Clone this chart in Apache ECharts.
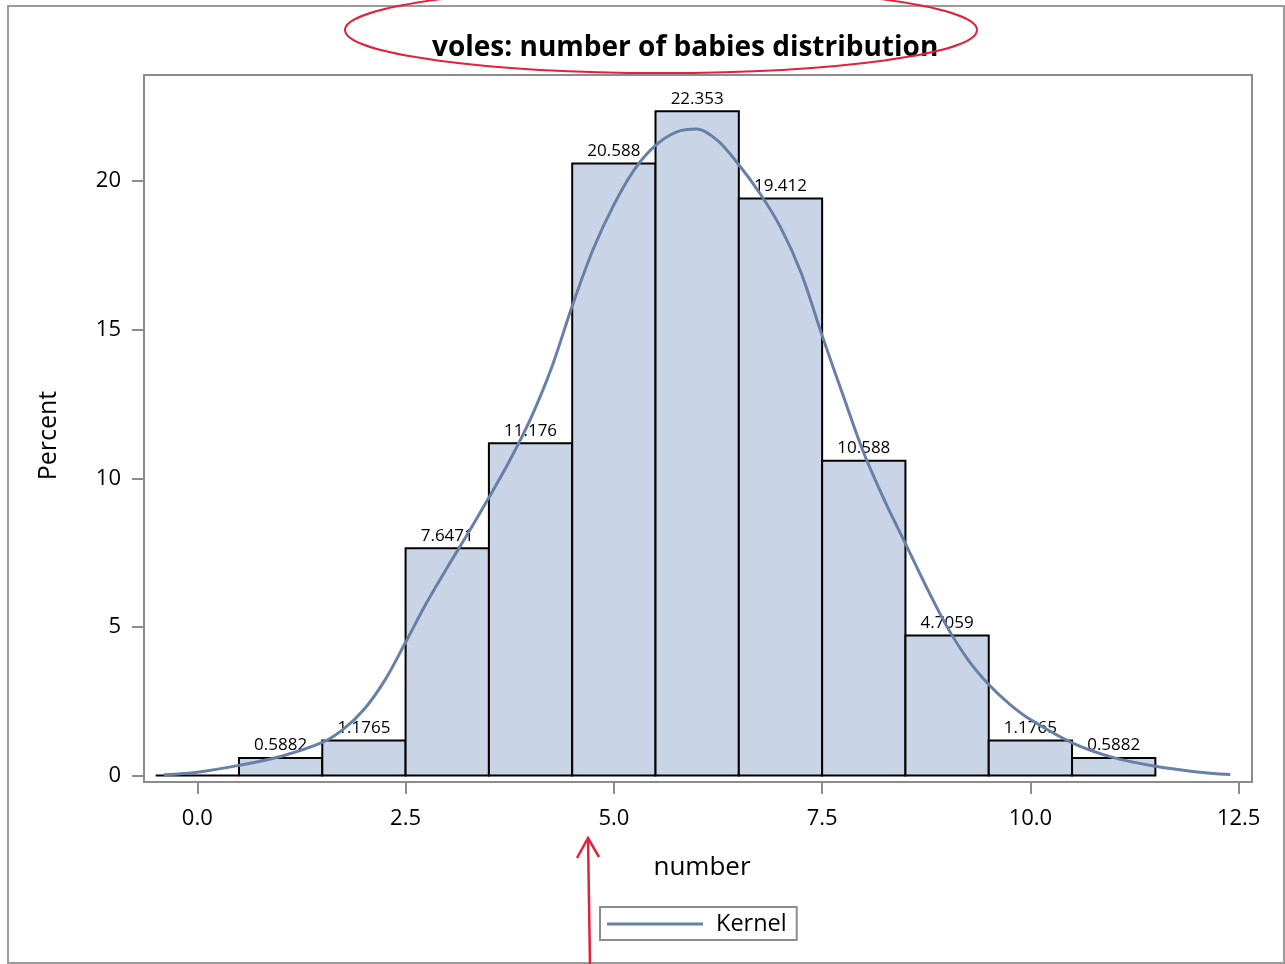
<!DOCTYPE html>
<html>
<head>
<meta charset="utf-8">
<script src="https://cdn.jsdelivr.net/npm/echarts@6/dist/echarts.min.js"></script>
<style>
html,body{margin:0;padding:0;background:#fff;}
#main{width:1285px;height:964px;}
</style>
</head>
<body>
<div id="main"></div>
<script>
// Histogram bins (left edge, right edge) and percent values
const binStarts = [-0.5, 0.5, 1.5, 2.5, 3.5, 4.5, 5.5, 6.5, 7.5, 8.5, 9.5, 10.5];
const binEnds   = [0.5, 1.5, 2.5, 3.5, 4.5, 5.5, 6.5, 7.5, 8.5, 9.5, 10.5, 11.5];
const percents  = [0, 0.5882, 1.1765, 7.6471, 11.176, 20.588, 22.353, 19.412, 10.588, 4.7059, 1.1765, 0.5882];
const barLabels = ['', '0.5882', '1.1765', '7.6471', '11.176', '20.588', '22.353', '19.412', '10.588', '4.7059', '1.1765', '0.5882'];

// Kernel density curve
const kernelX = [-0.4, 0, 0.5, 1.0, 1.5, 1.75, 2.0, 2.25, 2.5, 2.75, 3.0, 3.25, 3.5, 3.75, 4.0, 4.25, 4.5, 4.75, 5.0, 5.25, 5.5, 5.75, 6.0, 6.25, 6.5, 6.75, 7.0, 7.25, 7.5, 7.75, 8.0, 8.25, 8.5, 8.75, 9.0, 9.25, 9.5, 9.75, 10.0, 10.5, 11.0, 11.5, 12.0, 12.4];
const kernelY = [0.02, 0.11, 0.34, 0.64, 1.11, 1.55, 2.22, 3.2, 4.48, 5.8, 7.0, 8.15, 9.35, 10.6, 12.0, 13.7, 15.8, 17.7, 19.2, 20.4, 21.2, 21.65, 21.75, 21.35, 20.55, 19.6, 18.45, 16.9, 14.8, 12.8, 10.85, 9.25, 7.8, 6.35, 5.0, 3.9, 3.06, 2.4, 1.88, 1.1, 0.6, 0.31, 0.12, 0.03];

// Tick labels
const xTicks = [0, 2.5, 5, 7.5, 10, 12.5];
const yTicks = [0, 5, 10, 15, 20];

const FONT = '"Open Sans", "Noto Sans", sans-serif';
const GRAY = '#8c8c8c';

const chart = echarts.init(document.getElementById('main'));

const histData = binStarts.map((s, i) => [s, binEnds[i], percents[i], barLabels[i]]);
const kernelData = kernelX.map((x, i) => [x, kernelY[i]]);

chart.setOption({
  backgroundColor: '#fff',
  animation: false,
  title: {
    text: 'voles: number of babies distribution',
    left: 427,
    top: 29,
    textStyle: { fontFamily: FONT, fontWeight: 'bold', fontSize: 28, color: '#000' }
  },
  grid: {
    left: 144, right: 33, top: 75, bottom: 182,
    show: true, borderColor: GRAY, borderWidth: 2, backgroundColor: 'transparent'
  },
  xAxis: {
    type: 'value', min: -0.64, max: 12.66,
    name: 'number', nameLocation: 'middle', nameGap: 73,
    nameTextStyle: { fontFamily: FONT, fontSize: 26, color: '#000', padding: [0, 0, 0, 8] },
    axisLine: { show: false, onZero: false },
    splitLine: { show: false },
    axisTick: { show: true, length: 12, customValues: xTicks, lineStyle: { color: GRAY, width: 2 } },
    axisLabel: {
      customValues: xTicks, margin: 26,
      fontFamily: FONT, fontSize: 22, color: '#000',
      formatter: v => v.toFixed(1)
    }
  },
  yAxis: {
    type: 'value', min: -0.22, max: 23.57,
    name: 'Percent', nameLocation: 'middle', nameGap: 83, nameRotate: 90,
    nameTextStyle: { fontFamily: FONT, fontSize: 25, color: '#000', padding: [0, 14, 0, 0] },
    axisLine: { show: false, onZero: false },
    splitLine: { show: false },
    axisTick: { show: true, length: 12, customValues: yTicks, lineStyle: { color: GRAY, width: 2 } },
    axisLabel: {
      customValues: yTicks, margin: 23,
      fontFamily: FONT, fontSize: 22, color: '#000'
    }
  },
  legend: {
    show: true,
    left: 600, top: 907,
    data: [{ name: 'Kernel', icon: 'rect' }],
    itemWidth: 96, itemHeight: 3,
    borderColor: GRAY, borderWidth: 2,
    padding: [5, 10, 4, 7],
    textStyle: { fontFamily: FONT, fontSize: 23.5, color: '#000', padding: [0, 0, 0, 8] },
    selectedMode: false
  },
  series: [
    {
      type: 'custom',
      name: 'hist',
      renderItem: function (params, api) {
        const x0 = api.value(0), x1 = api.value(1), y = api.value(2);
        const p0 = api.coord([x0, 0]);
        const p1 = api.coord([x1, y]);
        const children = [{
          type: 'rect',
          shape: { x: p0[0], y: p1[1], width: p1[0] - p0[0], height: p0[1] - p1[1] },
          style: { fill: '#c9d5e6', stroke: '#000', lineWidth: 2 }
        }];
        const lab = histData[params.dataIndex][3];
        if (lab) {
          children.push({
            type: 'text',
            style: {
              text: lab, x: (p0[0] + p1[0]) / 2, y: p1[1] - 4,
              align: 'center', verticalAlign: 'bottom',
              fill: '#000', font: '17px ' + FONT
            }
          });
        }
        return { type: 'group', children: children };
      },
      encode: { x: [0, 1], y: 2 },
      data: histData,
      z: 2
    },
    {
      type: 'line',
      name: 'Kernel',
      data: kernelData,
      smooth: 0.3,
      showSymbol: false,
      lineStyle: { color: '#6880a6', width: 3 },
      itemStyle: { color: '#6880a6' },
      z: 3
    }
  ],
  graphic: [
    {
      type: 'rect', silent: true,
      shape: { x: 8, y: 6, width: 1276, height: 957 },
      style: { fill: 'none', stroke: '#9a9a9a', lineWidth: 2 }
    },
    {
      type: 'ellipse', silent: true, z: 100,
      shape: { cx: 661, cy: 30, rx: 316, ry: 43 },
      style: { fill: 'none', stroke: '#e0223c', lineWidth: 2 }
    },
    {
      type: 'polyline', silent: true, z: 100,
      shape: { points: [[590, 964], [588, 838]] },
      style: { stroke: '#e0223c', lineWidth: 2.5, fill: 'none' }
    },
    {
      type: 'polyline', silent: true, z: 100,
      shape: { points: [[577, 858], [588, 838], [599, 857]] },
      style: { stroke: '#e0223c', lineWidth: 2.5, fill: 'none' }
    }
  ]
});
</script>
</body>
</html>
